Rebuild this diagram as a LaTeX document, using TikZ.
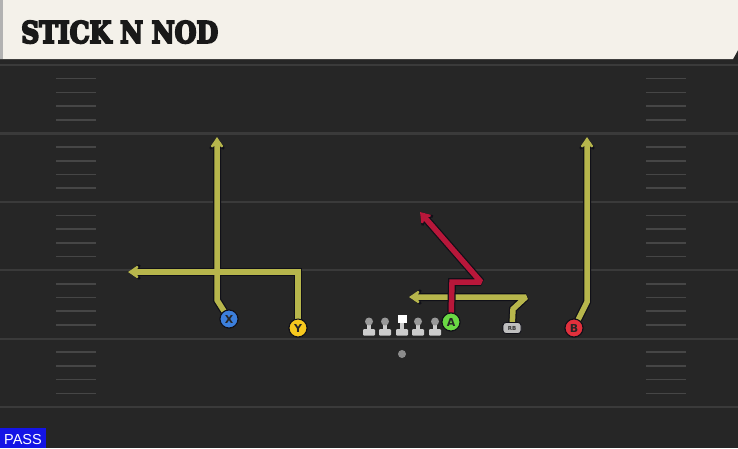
\documentclass[tikz,border=0pt]{standalone}
\usepackage{fontspec}
\usetikzlibrary{arrows.meta}
\newfontfamily\titlefont{DejaVu Serif}
\newfontfamily\labfont{DejaVu Sans}
\newfontfamily\passfont{Liberation Sans}
\definecolor{field}{HTML}{262626}
\definecolor{yardc}{HTML}{3A3A3A}
\definecolor{hashc}{HTML}{464646}
\definecolor{headerc}{HTML}{F4F1EA}
\definecolor{routeY}{HTML}{B7B64C}
\definecolor{routeR}{HTML}{B8173A}
\definecolor{outl}{HTML}{101018}
\definecolor{xblue}{HTML}{3C7FDC}
\definecolor{yyel}{HTML}{F6C81E}
\definecolor{agreen}{HTML}{6AD844}
\definecolor{bred}{HTML}{E1303C}
\definecolor{passblue}{HTML}{1414E6}
\newcommand\titletext{\resizebox{197pt}{22pt}{\special{pdf:literal direct 2 Tr 0.7 w}\titlefont\bfseries STICK N NOD\special{pdf:literal direct 0 Tr}}}
\tikzset{
  yard/.style={draw=yardc, line width=2.2pt},
  hashmark/.style={draw=hashc, line width=1.6pt},
  player/.style={circle, draw=outl, line width=1pt, minimum size=18pt, inner sep=0pt,
    font=\labfont\bfseries\fontsize{11}{11}\selectfont, text=black!85},
  rbnode/.style={rectangle, rounded corners=3pt, draw=outl, line width=0.8pt, fill=black!25,
    minimum width=18pt, minimum height=11pt, inner sep=0pt,
    font=\labfont\bfseries\fontsize{5.5}{5.5}\selectfont, text=black!80},
  routeout/.style={draw=outl, line width=8pt, line join=miter, miter limit=2,
    -{Stealth[length=15pt,width=21pt,inset=6pt]}},
  routein/.style={line width=5.5pt, line join=miter, miter limit=2,
    -{Stealth[length=12.5pt,width=17pt,inset=5pt]}},
  titlestyle/.style={anchor=south west, inner sep=0pt, text=black!90},
}
\begin{document}
\begin{tikzpicture}[x=1pt,y=-1pt]
\useasboundingbox (0,0) rectangle (738,448);
\fill[field] (0,0) rectangle (738,448);
\fill[black!85] (0,59) rectangle (738,66);
% yard lines and hashes
\foreach \yy in {65,133.4,201.8,270.2,338.6,407}{
  \draw[yard] (0,\yy) -- (738,\yy);
}
\foreach \yy in {65,133.4,201.8,270.2,338.6}{
  \foreach \k in {1,...,4}{
    \draw[hashmark] (56,{\yy+13.68*\k}) -- (96,{\yy+13.68*\k});
    \draw[hashmark] (646,{\yy+13.68*\k}) -- (686,{\yy+13.68*\k});
  }
}
% header
\fill[headerc] (0,0) -- (738,0) -- (738,50) -- (733,59) -- (0,59) -- cycle;
\fill[black!30] (0,0) rectangle (2.5,59);
\node[titlestyle] (title) at (21,43.5) {\titletext};
% players
\node[player, fill=xblue] (X) at (229,319) {X};
\node[player, fill=yyel] (Y) at (298,328) {Y};
\node[player, fill=agreen] (A) at (451,322) {A};
\node[player, fill=bred] (B) at (574,328) {B};
\node[rbnode] (RB) at (512,328) {RB};
% waypoints
\coordinate (x1) at (217,300); \coordinate (x2) at (217,137);
\coordinate (y1) at (298,272); \coordinate (y2) at (128,272);
\coordinate (b1) at (587,302); \coordinate (b2) at (587,137);
\coordinate (r1) at (513,309); \coordinate (r2) at (526,297); \coordinate (r3) at (409,297);
\coordinate (a1) at (452,282); \coordinate (a2) at (481,282); \coordinate (a3) at (420,212);
% routes: outlines
\draw[routeout] (X) -- (x1) -- (x2);
\draw[routeout] (Y) -- (y1) -- (y2);
\draw[routeout] (B) -- (b1) -- (b2);
\draw[routeout] (RB) -- (r1) -- (r2) -- (r3);
\draw[routein, routeY] (X) -- (x1) -- (x2);
\draw[routein, routeY] (Y) -- (y1) -- (y2);
\draw[routein, routeY] (B) -- (b1) -- (b2);
\draw[routein, routeY] (RB) -- (r1) -- (r2) -- (r3);
\draw[routeout] (A) -- (a1) -- (a2) -- (a3);
\draw[routein, routeR] (A) -- (a1) -- (a2) -- (a3);
% redraw players on top
\node[player, fill=xblue] at (X) {X};
\node[player, fill=yyel] at (Y) {Y};
\node[player, fill=agreen] at (A) {A};
\node[player, fill=bred] at (B) {B};
\node[rbnode] at (RB) {RB};
% linemen
\foreach \lx in {369,385,418,435}{
  \fill[black!20, rounded corners=1pt] ({\lx-6},329) rectangle ({\lx+6},335.5);
  \fill[black!20] ({\lx-2},321) rectangle ({\lx+2},330);
  \fill[black!40] (\lx,321.5) circle (4pt);
}
\fill[black!20, rounded corners=1pt] (396,329) rectangle (408,335.5);
\fill[black!20] (400,322) rectangle (404,330);
\fill[white] (397.5,314.5) rectangle (406.5,323);
\node[circle, fill=black!45, minimum size=8pt, inner sep=0pt] (QB) at (402,354) {};
% pass label
\fill[passblue] (0,428) rectangle (46,448);
\node[text=white, font=\passfont\fontsize{14.5}{14.5}\selectfont, inner sep=0pt] (pass) at (23,439) {PASS};
\end{tikzpicture}
\end{document}
